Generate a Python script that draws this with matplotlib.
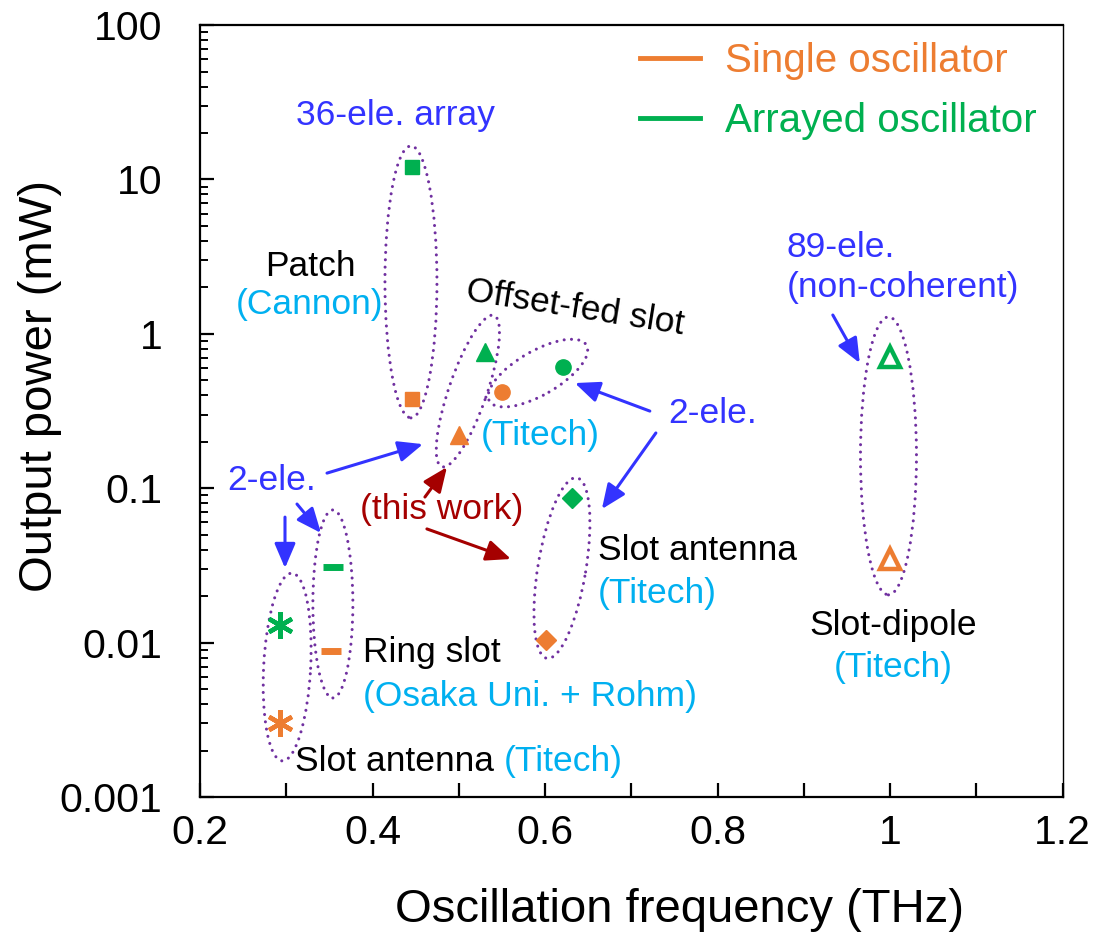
import matplotlib
matplotlib.use("Agg")
import matplotlib.pyplot as plt
import matplotlib.transforms as mtransforms
from matplotlib.patches import Ellipse
from matplotlib.lines import Line2D
from matplotlib.ticker import FixedLocator, FuncFormatter, LogLocator, NullFormatter

plt.rcParams['font.family'] = ['Liberation Sans', 'DejaVu Sans']

ORANGE = '#ED7D31'
GREEN = '#00B050'
BLUE = '#3333FF'
CYAN = '#00B0F0'
DARKRED = '#A50000'
PURPLE = '#7030A0'

# one entry per device type: single oscillator vs arrayed oscillator
freq_single = [0.446, 0.500, 0.550, 0.601, 1.000, 0.293, 0.352]
power_single = [0.38, 0.22, 0.42, 0.0104, 0.035, 0.0030, 0.0088]
freq_array = [0.446, 0.530, 0.621, 0.631, 1.000, 0.293, 0.354]
power_array = [12.0, 0.76, 0.61, 0.087, 0.71, 0.013, 0.031]
markers = ['s', '^', 'o', 'D', '^', (6, 2, 0), '_']
marker_sizes = [10, 13, 11, 10, 14, 19, 14]
hollow = [False, False, False, False, True, False, False]

x_ticks = [0.2, 0.4, 0.6, 0.8, 1.0, 1.2]
y_ticks = [0.001, 0.01, 0.1, 1, 10, 100]

fig = plt.figure(figsize=(10.99, 9.46), dpi=100)
ax = fig.add_axes([0.182, 0.1575, 0.785, 0.816])
ax.set_yscale('log')
ax.set_xlim(0.2, 1.2)
ax.set_ylim(0.001, 100)

for fs, ps, fa, pa, m, ms, h in zip(freq_single, power_single, freq_array,
                                    power_array, markers, marker_sizes, hollow):
    for f, p, c in ((fs, ps, ORANGE), (fa, pa, GREEN)):
        if h:
            ax.plot(f, p, marker=m, ms=ms, mfc='white', mec=c, mew=3.2,
                    ls='none', zorder=4)
        elif m == '_' or isinstance(m, tuple):
            ax.plot(f, p, marker=m, ms=ms, color=c, mew=3.2 if m != '_' else 5,
                    ls='none', zorder=4)
        else:
            ax.plot(f, p, marker=m, ms=ms, color=c, mec=c, ls='none', zorder=4)

# dotted groupings (centre in data units, size in pixels)
groups = [
    (0.4445, 2.17, 52, 272, 0),
    (0.5105, 0.426, 160, 38, 71),
    (0.5917, 0.557, 112, 44, 30),
    (0.6195, 0.0304, 183, 48, 80.6),
    (0.998, 0.162, 56, 278, 0),
    (0.354, 0.0178, 40, 188, 0),
    (0.301, 0.00695, 188, 47, 87),
]
for cx, cy, w, h, ang in groups:
    tr = fig.dpi_scale_trans + mtransforms.ScaledTranslation(cx, cy, ax.transData)
    e = Ellipse((0, 0), w / 100, h / 100, angle=ang, transform=tr, fill=False,
                edgecolor=PURPLE, lw=2.2, linestyle=(0, (0.01, 2.4)),
                capstyle='round', zorder=3)
    ax.add_patch(e)

fs_txt = 25.5
ax.text(0.427, 26.1, '36-ele. array', color=BLUE, fontsize=fs_txt, ha='center', va='center')
ax.text(0.3275, 2.71, 'Patch', color='black', fontsize=fs_txt, ha='center', va='center')
ax.text(0.3275, 1.54, '(Cannon)', color=CYAN, fontsize=fs_txt, ha='center', va='center')
ax.text(0.6345, 1.47, 'Offset-fed slot', color='black', fontsize=fs_txt, ha='center',
        va='center', rotation=-9)
ax.text(0.594, 0.221, '(Titech)', color=CYAN, fontsize=fs_txt, ha='center', va='center')
ax.text(0.7944, 0.307, '2-ele.', color=BLUE, fontsize=fs_txt, ha='center', va='center')
ax.text(0.2834, 0.113, '2-ele.', color=BLUE, fontsize=fs_txt, ha='center', va='center')
ax.text(0.4804, 0.0723, '(this work)', color=DARKRED, fontsize=fs_txt, ha='center', va='center')
ax.text(0.6612, 0.0398, 'Slot antenna', color='black', fontsize=fs_txt, ha='left', va='center')
ax.text(0.6612, 0.0209, '(Titech)', color=CYAN, fontsize=fs_txt, ha='left', va='center')
ax.text(0.8802, 3.65, '89-ele.', color=BLUE, fontsize=fs_txt, ha='left', va='center')
ax.text(0.8802, 2.01, '(non-coherent)', color=BLUE, fontsize=fs_txt, ha='left', va='center')
ax.text(1.004, 0.013, 'Slot-dipole', color='black', fontsize=fs_txt, ha='center', va='center')
ax.text(1.004, 0.00695, '(Titech)', color=CYAN, fontsize=fs_txt, ha='center', va='center')
ax.text(0.3889, 0.00857, 'Ring slot', color='black', fontsize=fs_txt, ha='left', va='center')
ax.text(0.3889, 0.00445, '(Osaka Uni. + Rohm)', color=CYAN, fontsize=fs_txt, ha='left', va='center')
t = ax.text(0.310, 0.00169, 'Slot antenna ', color='black', fontsize=fs_txt, ha='left', va='center')
ax.annotate('(Titech)', xycoords=t, xy=(1, 0.5), va='center', ha='left',
            color=CYAN, fontsize=fs_txt)

arrows = [
    ((0.3472, 0.1253), (0.4584, 0.193), BLUE),
    ((0.2985, 0.065), (0.2985, 0.0304), BLUE),
    ((0.3124, 0.079), (0.3402, 0.0513), BLUE),
    ((0.7214, 0.316), (0.6345, 0.48), BLUE),
    ((0.7284, 0.228), (0.6658, 0.0733), BLUE),
    ((0.9335, 1.324), (0.9648, 0.647), BLUE),
    ((0.4607, 0.0877), (0.4862, 0.137), DARKRED),
    ((0.463, 0.0545), (0.5604, 0.0348), DARKRED),
]
for tail, head, c in arrows:
    ax.annotate('', xy=head, xytext=tail,
                arrowprops=dict(arrowstyle='-|>,head_length=0.75,head_width=0.32',
                                mutation_scale=20, color=c, lw=2.2,
                                shrinkA=0, shrinkB=0))

handles = [Line2D([], [], color=ORANGE, lw=3.5), Line2D([], [], color=GREEN, lw=3.5)]
leg = ax.legend(handles, ['Single oscillator', 'Arrayed oscillator'],
                loc='upper left', bbox_to_anchor=(0.51, 0.978), frameon=False,
                fontsize=29, handlelength=1.49, handletextpad=0.62,
                labelspacing=0.55, borderpad=0, borderaxespad=0,
                labelcolor='linecolor')

ax.xaxis.set_major_locator(FixedLocator(x_ticks))
ax.xaxis.set_minor_locator(FixedLocator([0.3, 0.5, 0.7, 0.9, 1.1]))
ax.xaxis.set_major_formatter(FuncFormatter(lambda v, p: f'{v:g}'))
ax.yaxis.set_major_locator(FixedLocator(y_ticks))
ax.yaxis.set_minor_locator(LogLocator(base=10, subs=range(2, 10), numticks=20))
ax.yaxis.set_minor_formatter(NullFormatter())
ax.yaxis.set_major_formatter(FuncFormatter(lambda v, p: f'{v:g}'))

ax.tick_params(axis='both', which='major', direction='in', length=10, width=1.6,
               labelsize=29.5, top=False, right=False)
ax.tick_params(axis='y', which='major', pad=27)
ax.tick_params(axis='x', which='major', pad=12)
ax.tick_params(axis='x', which='minor', direction='in', length=10, width=1.6,
               top=False)
ax.tick_params(axis='y', which='minor', direction='in', length=6, width=1.4,
               right=False)
for side in ['left', 'bottom', 'top']:
    ax.spines[side].set_linewidth(1.6)
ax.spines['right'].set_linewidth(1.0)

ax.set_xlabel('Oscillation frequency (THz)', fontsize=34)
ax.set_ylabel('Output power (mW)', fontsize=34)
ax.xaxis.set_label_coords(0.556, -0.118)
ax.yaxis.set_label_coords(-0.16, 0.532)

fig.savefig('out.png', dpi=100)
